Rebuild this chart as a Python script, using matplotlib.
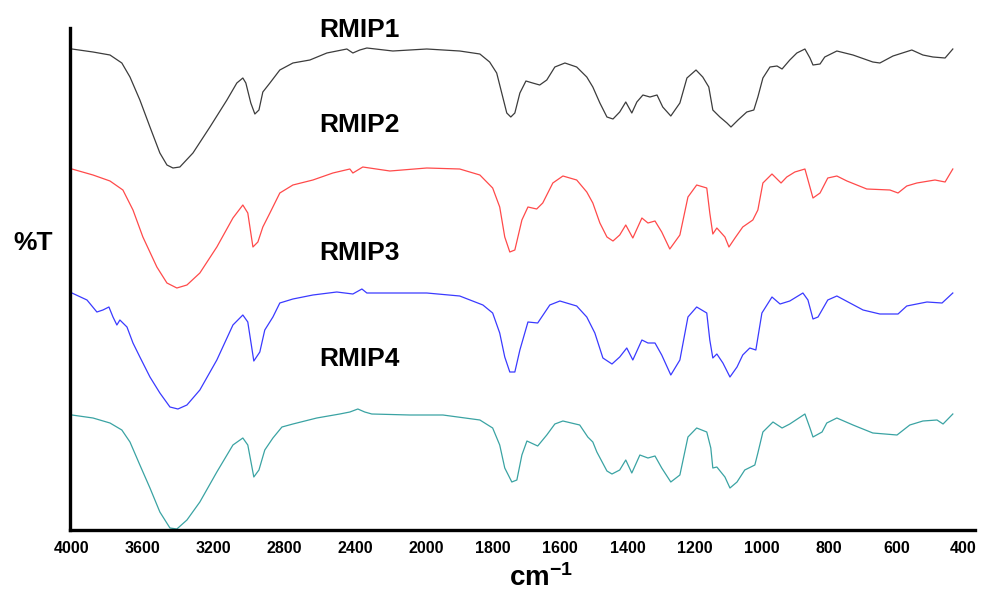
import numpy as np
import matplotlib
matplotlib.use("Agg")
import matplotlib.pyplot as plt
from matplotlib.ticker import FixedLocator, NullLocator

# wavenumbers (cm-1) and transmittance
rmip1_wn = [4000, 3881, 3785, 3718, 3672, 3616, 3559, 3503, 3463, 3429, 3390, 3316, 3220, 3124,
            3068, 3034, 3017, 2989, 2966, 2943, 2921, 2881, 2825, 2751, 2655, 2559, 2446, 2412,
            2373, 2333, 2186, 1997, 1899, 1839, 1810, 1789, 1774, 1759, 1747, 1735, 1720, 1702,
            1682, 1661, 1640, 1616, 1586, 1551, 1521, 1503, 1482, 1461, 1443, 1423, 1405, 1387,
            1372, 1354, 1333, 1312, 1295, 1271, 1244, 1223, 1196, 1176, 1158, 1146, 1125, 1104,
            1092, 1071, 1045, 1024, 1012, 997, 976, 955, 940, 917, 896, 872, 857, 848, 827, 813,
            777, 729, 670, 649, 610, 554, 521, 491, 455, 432]
rmip1_t = [99.5, 98, 96.5, 92.5, 85.5, 74, 60.5, 47.5, 41.5, 40, 40.5, 47.5, 60.5, 74,
           82.5, 85, 82.5, 72.5, 67, 69, 78, 82.5, 89, 92.5, 94, 97.5, 99.5, 97.5,
           99, 100, 98.5, 99.5, 98.5, 97, 93, 87.5, 77.5, 67.5, 65.5, 67.5, 77.5, 83.5,
           82.5, 81.5, 84, 90.5, 92.5, 90.5, 85.5, 80.5, 72.5, 65.5, 64.5, 68, 73, 67.5,
           73, 76.5, 75.5, 76.5, 70.5, 66, 72.5, 85, 89, 85.5, 80.5, 69, 65.5, 62.5,
           60.5, 64, 68, 69, 75.5, 85, 90.5, 91, 89.5, 94, 97.5, 99.5, 95, 91.5, 92, 95.5,
           98.5, 96.5, 93, 92.5, 96, 99, 96.5, 95.5, 95, 99.5]

rmip2_wn = [4000, 3881, 3785, 3712, 3655, 3599, 3520, 3463, 3407, 3350, 3277, 3181, 3090, 3034,
            3006, 2977, 2949, 2921, 2881, 2825, 2751, 2638, 2525, 2429, 2412, 2356, 2203, 1997,
            1899, 1839, 1801, 1780, 1765, 1750, 1735, 1714, 1696, 1670, 1652, 1622, 1592, 1551,
            1521, 1503, 1482, 1461, 1443, 1423, 1405, 1384, 1357, 1339, 1318, 1298, 1274, 1244,
            1220, 1194, 1164, 1155, 1146, 1134, 1110, 1098, 1080, 1057, 1027, 1012, 997, 970,
            943, 926, 902, 872, 848, 827, 804, 777, 747, 688, 619, 595, 569, 539, 485, 455, 432]
rmip2_t = [99, 96, 93, 88.5, 78.5, 65, 50, 42, 39.5, 41, 47, 60, 74.5, 81,
           77, 60, 62.5, 70, 77, 87, 91, 93.5, 97, 99, 97, 100, 98, 99.5,
           99, 96, 89.5, 80, 65, 57.5, 58.5, 73.5, 80, 79, 82, 92, 95.5, 93.5,
           87.5, 82, 72, 65, 63, 66, 71, 64.5, 74.5, 72, 73, 67.5, 59, 66,
           85, 91, 89.5, 77, 66.5, 69.5, 65, 60, 64.5, 70, 73.5, 78.5, 92, 96.5,
           92, 95, 97.5, 99, 84.5, 87, 94.5, 95.5, 93, 89, 88.5, 87, 90.5, 92, 93.5, 92.5, 99]

rmip3_wn = [4000, 3915, 3859, 3825, 3791, 3768, 3746, 3729, 3689, 3672, 3655, 3616, 3559, 3503,
            3446, 3401, 3350, 3277, 3181, 3090, 3034, 3006, 2972, 2938, 2910, 2864, 2825, 2751,
            2638, 2503, 2412, 2361, 2333, 2186, 1997, 1899, 1830, 1801, 1780, 1765, 1750, 1735,
            1720, 1696, 1667, 1631, 1601, 1551, 1521, 1497, 1473, 1446, 1423, 1402, 1384, 1357,
            1339, 1318, 1298, 1271, 1244, 1220, 1194, 1164, 1155, 1146, 1134, 1116, 1095, 1074,
            1057, 1036, 1018, 1000, 970, 946, 917, 878, 863, 848, 833, 804, 777, 738, 699, 649,
            595, 569, 509, 464, 432]
rmip3_t = [98, 94.5, 88.5, 89.5, 91, 86, 82, 84.5, 81, 77, 73, 66, 56, 48,
           41, 40, 42, 49.5, 64.5, 82, 87, 83.5, 64, 68.5, 79.5, 86, 93, 95,
           97, 98.5, 97.5, 100, 98, 98, 98, 96.5, 92, 88, 78, 66, 58.5, 58.5,
           69.5, 83.5, 83, 92, 94, 91.5, 86, 78, 65.5, 62.5, 66, 70.5, 64.5, 74.5,
           73, 73, 67, 57, 64.5, 86, 91, 88, 74.5, 65.5, 67.5, 63, 56, 61,
           67, 70.5, 69.5, 88, 96, 92.5, 94, 98, 94.5, 85, 86, 94.5, 96.5, 93, 89.5, 87.5,
           87.5, 91.5, 93.5, 93, 98]

rmip4_wn = [4000, 3881, 3785, 3718, 3672, 3616, 3559, 3503, 3446, 3407, 3350, 3277, 3181, 3090,
            3034, 3006, 2972, 2943, 2910, 2864, 2813, 2751, 2616, 2486, 2429, 2384, 2345, 2305,
            2090, 1949, 1839, 1801, 1780, 1765, 1744, 1729, 1714, 1699, 1667, 1640, 1616, 1592,
            1542, 1518, 1503, 1491, 1461, 1446, 1423, 1405, 1387, 1363, 1339, 1318, 1298, 1271,
            1244, 1220, 1194, 1164, 1152, 1146, 1134, 1110, 1095, 1074, 1051, 1021, 1012, 997,
            967, 940, 917, 872, 857, 848, 821, 807, 777, 729, 670, 598, 560, 521, 479, 461, 432]
rmip4_t = [97, 95.5, 93, 89.5, 83.5, 72, 60.5, 48.5, 40.5, 40, 44.5, 53.5, 68.5, 82,
           85.5, 82, 66, 69.5, 79.5, 85.5, 91, 92.5, 95.5, 97.5, 98.5, 100, 98.5, 97.5,
           97, 97, 94.5, 90.5, 82, 70.5, 63.5, 64.5, 77, 84, 81.5, 87, 92.5, 94,
           92, 86, 83.5, 78.5, 69, 67.5, 69.5, 74.5, 68, 77, 75.5, 76.5, 70.5, 63.5,
           67, 86, 90.5, 88.5, 80.5, 70.5, 71, 66, 60.5, 63.5, 69.5, 72, 78, 88.5,
           93.5, 90.5, 92.5, 97.5, 90.5, 86, 88.5, 93, 95.5, 92, 88, 87, 92, 94, 94.5, 92.5, 97.5]

names = ["RMIP1", "RMIP2", "RMIP3", "RMIP4"]
colors = ["#3c3c3c", "#ff4a4a", "#3a3aff", "#3aa3a3"]
offsets = [0, -59.5, -120.5, -180.5]
ticks = [4000, 3600, 3200, 2800, 2400, 2000, 1800, 1600, 1400, 1200, 1000, 800, 600, 400]

# region below 2000 cm-1 is drawn stretched, as on the instrument printout
K = 1.9


def forward(w):
    w = np.asarray(w, dtype=float)
    return np.where(w >= 2000, w, 2000 - (2000 - w) * K)


def inverse(v):
    v = np.asarray(v, dtype=float)
    return np.where(v >= 2000, v, 2000 - (2000 - v) / K)


def main():
    plt.rcParams['font.family'] = ['Liberation Sans', 'DejaVu Sans']
    plt.rcParams['mathtext.fontset'] = 'custom'
    plt.rcParams['mathtext.rm'] = 'Liberation Sans:bold'
    plt.rcParams['mathtext.it'] = 'Liberation Sans:bold'

    fig = plt.figure(figsize=(9.83, 5.92), dpi=100)
    ax = fig.add_axes([70 / 983, 62 / 592, 905 / 983, 502 / 592])

    spectra = [(rmip1_wn, rmip1_t), (rmip2_wn, rmip2_t), (rmip3_wn, rmip3_t), (rmip4_wn, rmip4_t)]
    for (wn, t), off, c in zip(spectra, offsets, colors):
        ax.plot(wn, np.array(t) + off, color=c, lw=0.9)

    ax.set_xscale('function', functions=(forward, inverse))
    ax.set_xlim(4011, 366)
    ax.set_ylim(-141, 110)

    # curve names
    label_y = [0.996, 0.807, 0.552, 0.341]
    for name, ly in zip(names, label_y):
        ax.text(0.32, ly, name, transform=ax.transAxes, ha='center', va='center',
                fontsize=19, fontweight='bold', clip_on=False)

    ax.xaxis.set_major_locator(FixedLocator(ticks))
    ax.xaxis.set_minor_locator(NullLocator())
    ax.set_xticklabels([str(t) for t in ticks], fontsize=11.5, fontweight='bold')
    ax.tick_params(axis='x', length=0, pad=8)
    ax.set_yticks([])

    ax.set_xlabel('cm$^{-1}$', fontsize=20, fontweight='bold', va='center')
    ax.xaxis.set_label_coords(0.52, -0.096)
    ax.set_ylabel('%T', fontsize=19, fontweight='bold', rotation=0, va='center', ha='center')
    ax.yaxis.set_label_coords(-0.041, 0.572)

    for s in ['top', 'right']:
        ax.spines[s].set_visible(False)
    for s in ['left', 'bottom']:
        ax.spines[s].set_linewidth(2.4)
        ax.spines[s].set_color('black')

    plt.savefig('out.png', dpi=100)


if __name__ == "__main__":
    main()
